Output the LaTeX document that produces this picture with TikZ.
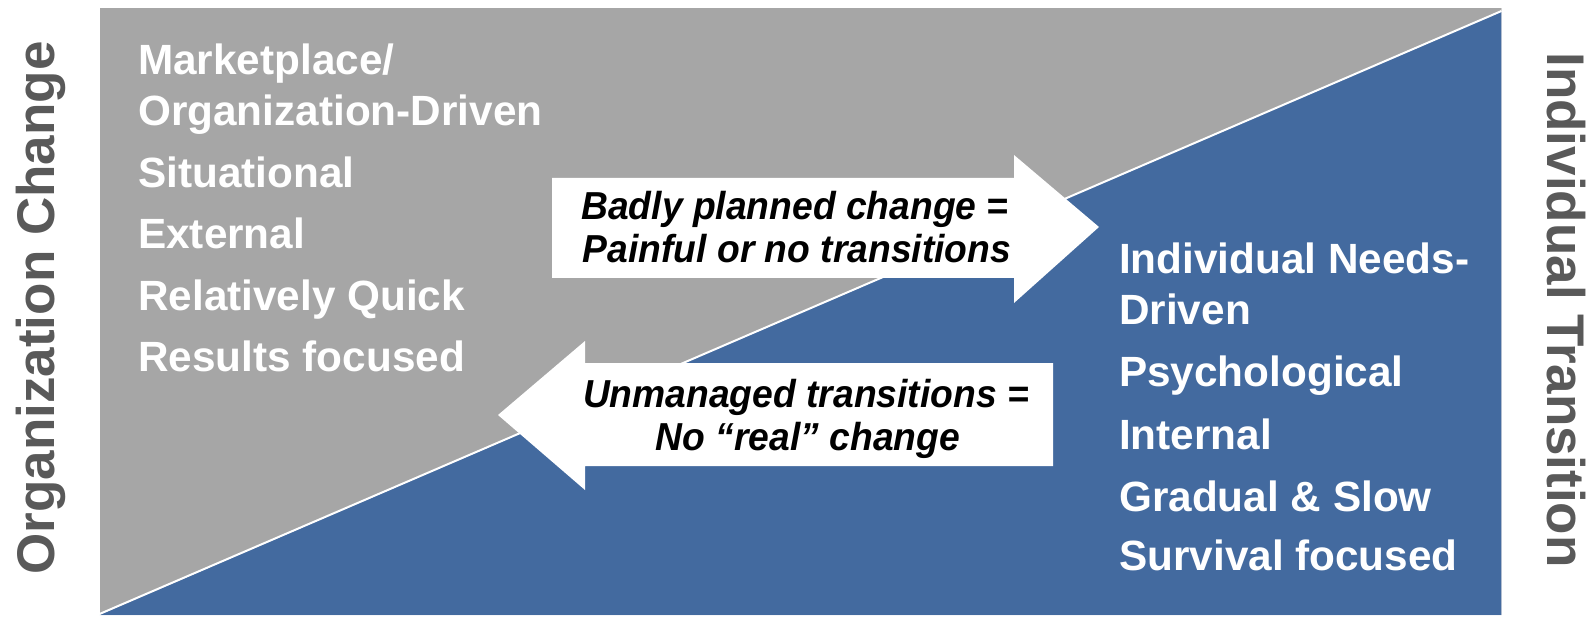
\documentclass[tikz,border=0pt]{standalone}
\usepackage{fontspec}
\setmainfont{Liberation Sans}
\definecolor{panelgray}{HTML}{A6A6A6}
\definecolor{panelblue}{HTML}{436A9F}
\definecolor{labelgray}{HTML}{595959}
\begin{document}
\begin{tikzpicture}[x=1pt,y=-1pt,
  listtext/.style={text=white, font=\fontsize{42.3}{50}\selectfont\bfseries, anchor=base west, inner sep=0pt},
  sidelabel/.style={text=labelgray, font=\fontsize{53}{60}\selectfont\bfseries, anchor=base, inner sep=0pt},
  arrowtext/.style={text=black, font=\fontsize{39}{45}\selectfont\bfseries\itshape, anchor=base, inner sep=0pt, xscale=0.955},
  blockarrow/.style={fill=white}]
\useasboundingbox (0,0) rectangle (1595,620);

% two-tone panel split by a diagonal
\fill[panelgray] (99.5,8) rectangle (1501.5,615);
\fill[panelblue] (99.5,615) -- (1501.5,11) -- (1501.5,615) -- cycle;
\draw[white, line width=2pt] (99.5,614) -- (1501.5,11);
\draw[white, opacity=0.5, line width=1pt] (99.5,8) rectangle (1501.5,615);

% side labels
\node[sidelabel, rotate=90] (orgchange) at (54,308) {Organization Change};
\node[sidelabel, rotate=-90] (indtrans) at (1547,310) {Individual Transition};

% organization change characteristics
\node[listtext] (l1) at (138,75) {Marketplace/};
\node[listtext] (l2) at (138,125.5) {Organization-Driven};
\node[listtext] (l3) at (138,188) {Situational};
\node[listtext] (l4) at (138,249) {External};
\node[listtext] (l5) at (138,310) {Relatively Quick};
\node[listtext] (l6) at (138,371.5) {Results focused};

% individual transition characteristics
\node[listtext] (r1) at (1119,274) {Individual Needs-};
\node[listtext] (r2) at (1119,324.5) {Driven};
\node[listtext] (r3) at (1119,386) {Psychological};
\node[listtext] (r4) at (1119,449.5) {Internal};
\node[listtext] (r5) at (1119,511) {Gradual \& Slow};
\node[listtext] (r6) at (1119,570) {Survival focused};

% block arrows
\fill[blockarrow] (552,178) -- (1014,178) -- (1014,155) -- (1099,227)
  -- (1014,303) -- (1014,278) -- (552,278) -- cycle;
\fill[blockarrow] (1053,363) -- (585,363) -- (585,341) -- (498,415)
  -- (585,490) -- (585,466) -- (1053,466) -- cycle;

\node[arrowtext] (a1) at (795,220) {Badly planned change =};
\node[arrowtext] (a2) at (797,263) {Painful or no transitions};
\node[arrowtext] (b1) at (806,407) {Unmanaged transitions =};
\node[arrowtext] (b2) at (808,450) {No “real” change};
\end{tikzpicture}
\end{document}
